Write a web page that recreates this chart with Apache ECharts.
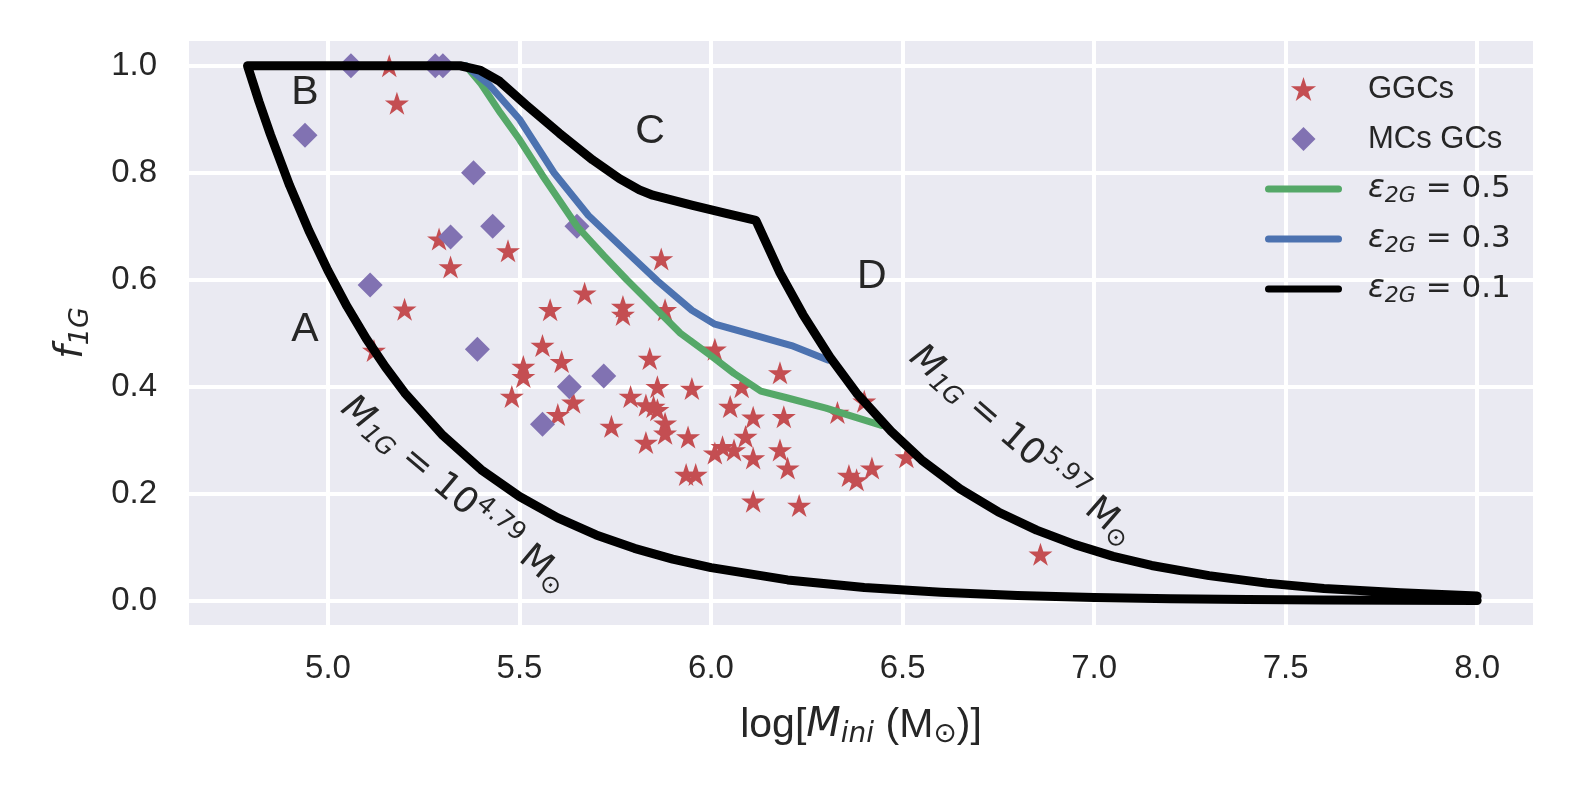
<!DOCTYPE html>
<html>
<head>
<meta charset="utf-8">
<script src="https://cdn.jsdelivr.net/npm/echarts@6/dist/echarts.min.js"></script>
<style>
  html, body { margin: 0; padding: 0; background: #fff; }
  #main { width: 1578px; height: 801px; }
</style>
</head>
<body>
<div id="main"></div>
<script>
// lower boundary, M1G = 10^4.79
var lowerX = [4.79, 4.82, 4.85, 4.9, 4.95, 5.0, 5.05, 5.1, 5.15, 5.2, 5.3, 5.4, 5.5, 5.6, 5.7, 5.8, 5.9, 6.0, 6.2, 6.4, 6.6, 6.8, 7.0, 7.2, 7.4, 7.6, 7.8, 8.0];
var lowerY = [1.0, 0.933, 0.871, 0.776, 0.692, 0.617, 0.550, 0.490, 0.437, 0.389, 0.309, 0.245, 0.195, 0.155, 0.123, 0.098, 0.078, 0.062, 0.039, 0.025, 0.016, 0.010, 0.006, 0.004, 0.0025, 0.0016, 0.001, 0.0006];

// eps=0.1 top edge (after the flat part at 1.0)
var topX = [5.345, 5.396, 5.448, 5.517, 5.604, 5.691, 5.761, 5.813, 5.848, 5.952, 6.039, 6.117];
var topY = [1.0, 0.992, 0.971, 0.927, 0.874, 0.824, 0.789, 0.768, 0.758, 0.739, 0.724, 0.711];

// upper boundary, M1G = 10^5.97
var upperX = [6.18, 6.24, 6.31, 6.38, 6.47, 6.55, 6.65, 6.75, 6.85, 6.95, 7.05, 7.15, 7.3, 7.45, 7.6, 7.8, 8.0];
var upperY = [0.613, 0.535, 0.456, 0.388, 0.317, 0.263, 0.209, 0.166, 0.132, 0.105, 0.083, 0.066, 0.047, 0.033, 0.023, 0.015, 0.009];

// eps=0.5 and eps=0.3 tracks
var eps05X = [5.36, 5.40, 5.45, 5.5, 5.56, 5.65, 5.72, 5.78, 5.85, 5.92, 6.0, 6.06, 6.13, 6.2, 6.3, 6.445];
var eps05Y = [1.0, 0.966, 0.912, 0.862, 0.795, 0.70, 0.645, 0.60, 0.55, 0.50, 0.458, 0.425, 0.392, 0.379, 0.36, 0.328];
var eps03X = [5.36, 5.42, 5.5, 5.59, 5.68, 5.78, 5.86, 5.95, 6.01, 6.12, 6.21, 6.305];
var eps03Y = [1.0, 0.965, 0.90, 0.80, 0.72, 0.652, 0.598, 0.543, 0.517, 0.495, 0.477, 0.45];

// GGCs
var ggcX = [5.16, 5.18, 5.29, 5.32, 5.47, 5.20, 5.12, 5.87, 5.67, 5.58, 5.77, 5.77, 5.88, 5.56, 5.61, 5.84, 5.51, 5.51, 5.48, 5.64,
            5.60, 5.74, 5.79, 5.83, 5.85, 5.86, 5.86, 5.95, 5.88, 5.88, 5.83, 5.94, 5.935, 5.96, 6.01, 6.08, 6.18, 6.05, 6.11, 6.19,
            6.09, 6.01, 6.03, 6.06, 6.11, 6.18, 6.20, 6.11, 6.23, 6.33, 6.40, 6.36, 6.38, 6.42, 6.51, 6.86];
var ggcY = [1.0, 0.93, 0.676, 0.624, 0.654, 0.545, 0.468, 0.639, 0.575, 0.544, 0.55, 0.535, 0.544, 0.477, 0.447, 0.453, 0.438, 0.419, 0.382, 0.371,
            0.348, 0.326, 0.382, 0.366, 0.363, 0.357, 0.40, 0.397, 0.332, 0.313, 0.296, 0.306, 0.236, 0.236, 0.470, 0.40, 0.426, 0.363, 0.343, 0.344,
            0.307, 0.276, 0.288, 0.282, 0.267, 0.282, 0.248, 0.186, 0.178, 0.352, 0.373, 0.234, 0.226, 0.248, 0.269, 0.087];

// MCs GCs
var mcX = [4.94, 5.06, 5.28, 5.30, 5.38, 5.32, 5.43, 5.65, 5.11, 5.39, 5.72, 5.63, 5.56];
var mcY = [0.87, 1.0, 1.0, 1.0, 0.80, 0.68, 0.70, 0.70, 0.59, 0.47, 0.42, 0.40, 0.33];

// region letters
var regionText = ['A', 'B', 'C', 'D'];
var regionX = [4.94, 4.94, 5.841, 6.42];
var regionY = [0.506, 0.949, 0.877, 0.606];

// boundary captions
var capExp = ['4.79', '5.97'];
var capX = [5.33, 6.81];
var capY = [0.198, 0.29];
var capRot = [-40, -41];

var starPath = 'path://M0,-100 L22.45,-30.9 L95.1,-30.9 L36.3,11.8 L58.8,80.9 L0,38.2 L-58.8,80.9 L-36.3,11.8 L-95.1,-30.9 L-22.45,-30.9 Z';
var diamondPath = 'path://M0,-10 L10,0 L0,10 L-10,0 Z';
var barPath = 'path://M3.5,0 L73.5,0 A3.5,3.5 0 0 1 73.5,7 L3.5,7 A3.5,3.5 0 0 1 3.5,0 Z';

function pairs(xs, ys) {
  return xs.map(function (x, i) { return [x, ys[i]]; });
}

var lowerPts = pairs(lowerX, lowerY);
var lowerBack = lowerPts.slice().reverse();
var lowerBackShort = lowerPts.filter(function (p) { return p[0] <= 7.8; }).reverse();

var blackData = lowerBack.concat(pairs(topX, topY), pairs(upperX, upperY));
var greenData = lowerBackShort.concat(pairs(eps05X, eps05Y));
var blueData = lowerBackShort.concat(pairs(eps03X, eps03Y));

var mathFont = 'DejaVu Sans';
var textFont = 'Liberation Sans';
var ink = '#262626';

var myChart = echarts.init(document.getElementById('main'));

option = {
  animation: false,
  backgroundColor: '#ffffff',
  grid: {
    left: 187, right: 43, top: 39, bottom: 174,
    show: true, backgroundColor: '#EAEAF2', borderWidth: 0
  },
  legend: {
    orient: 'vertical',
    left: 1260, top: 64,
    itemWidth: 77, itemHeight: 24, itemGap: 10,
    symbolKeepAspect: true,
    data: [
      { name: 'GGCs', icon: starPath },
      { name: 'MCs GCs', icon: diamondPath },
      { name: 'e05', icon: barPath },
      { name: 'e03', icon: barPath },
      { name: 'e01', icon: barPath }
    ],
    formatter: function (name) {
      if (name === 'e05') return '{e|ε}{s|2G}{t| = 0.5}';
      if (name === 'e03') return '{e|ε}{s|2G}{t| = 0.3}';
      if (name === 'e01') return '{e|ε}{s|2G}{t| = 0.1}';
      return '{n|' + name + '}';
    },
    textStyle: {
      color: ink, padding: [0, 0, 0, 21], lineHeight: 40,
      rich: {
        n: { fontFamily: textFont, fontSize: 31, color: ink, lineHeight: 40 },
        e: { fontFamily: mathFont, fontStyle: 'italic', fontSize: 31, color: ink, lineHeight: 40 },
        s: { fontFamily: mathFont, fontStyle: 'italic', fontSize: 22, color: ink, lineHeight: 40, padding: [14, 0, 0, 0] },
        t: { fontFamily: mathFont, fontSize: 31, color: ink, lineHeight: 40 }
      }
    }
  },
  xAxis: {
    type: 'value',
    min: 4.632, max: 8.151,
    splitNumber: 7,
    axisLine: { show: false },
    axisTick: { show: false },
    splitLine: { show: true, lineStyle: { color: '#ffffff', width: 4 } },
    axisLabel: {
      showMinLabel: false, showMaxLabel: false,
      margin: 25, fontSize: 33, fontFamily: textFont, color: ink,
      formatter: function (v) { return v.toFixed(1); }
    },
    name: '{n|log[}{m|M}{s|ini}{n| (M}{o|⊙}{n|)]}',
    nameLocation: 'middle',
    nameGap: 76,
    nameTextStyle: {
      lineHeight: 46,
      rich: {
        n: { fontFamily: textFont, fontSize: 41, color: ink, lineHeight: 46 },
        m: { fontFamily: mathFont, fontStyle: 'italic', fontSize: 40, color: ink, lineHeight: 46 },
        s: { fontFamily: mathFont, fontStyle: 'italic', fontSize: 28, color: ink, lineHeight: 46, padding: [18, 0, 0, 0] },
        o: { fontFamily: mathFont, fontSize: 28, color: ink, lineHeight: 46, padding: [18, 0, 0, 0] }
      }
    }
  },
  yAxis: {
    type: 'value',
    min: -0.049, max: 1.05,
    splitNumber: 5,
    axisLine: { show: false },
    axisTick: { show: false },
    splitLine: { show: true, lineStyle: { color: '#ffffff', width: 4 } },
    axisLabel: {
      showMinLabel: false, showMaxLabel: false,
      margin: 30, fontSize: 33, fontFamily: textFont, color: ink,
      formatter: function (v) { return v.toFixed(1); }
    },
    name: '{m|f}{s|1G}',
    nameLocation: 'middle',
    nameGap: 93,
    nameTextStyle: {
      lineHeight: 44,
      rich: {
        m: { fontFamily: mathFont, fontStyle: 'italic', fontSize: 39, color: ink, lineHeight: 44 },
        s: { fontFamily: mathFont, fontStyle: 'italic', fontSize: 27, color: ink, lineHeight: 44, padding: [18, 0, 0, 0] }
      }
    }
  },
  series: [{
    name: 'e05',
    type: 'line',
    data: greenData,
    symbol: 'none', showSymbol: false,
    color: '#55A868',
    lineStyle: { color: '#55A868', width: 7, cap: 'round', join: 'round' }
  }, {
    name: 'e03',
    type: 'line',
    data: blueData,
    symbol: 'none', showSymbol: false,
    color: '#4C72B0',
    lineStyle: { color: '#4C72B0', width: 7, cap: 'round', join: 'round' }
  }, {
    name: 'e01',
    type: 'line',
    data: blackData,
    symbol: 'none', showSymbol: false,
    color: '#000000',
    lineStyle: { color: '#000000', width: 9, cap: 'round', join: 'round' }
  }, {
    name: 'GGCs',
    type: 'scatter',
    data: pairs(ggcX, ggcY),
    symbol: starPath,
    symbolSize: [24, 23],
    itemStyle: { color: '#C44E52', opacity: 1 }
  }, {
    name: 'MCs GCs',
    type: 'scatter',
    data: pairs(mcX, mcY),
    symbol: diamondPath,
    symbolSize: 25,
    itemStyle: { color: '#8172B2', opacity: 1 }
  }, {
    name: 'regions',
    type: 'scatter',
    silent: true,
    symbolSize: 0.1,
    itemStyle: { color: 'rgba(0,0,0,0)' },
    data: regionText.map(function (t, i) {
      return { value: [regionX[i], regionY[i]], label: { formatter: t } };
    }),
    label: {
      show: true, position: 'inside', opacity: 1,
      fontFamily: textFont, fontSize: 41, color: ink, textBorderWidth: 0
    }
  }, {
    name: 'captions',
    type: 'scatter',
    silent: true,
    symbolSize: 0.1,
    itemStyle: { color: 'rgba(0,0,0,0)' },
    data: capExp.map(function (e, i) {
      return {
        value: [capX[i], capY[i]],
        label: { formatter: '{m|M}{s|1G}{t| = 10}{p|' + e + '}{t| M}{o|⊙}', rotate: capRot[i] }
      };
    }),
    label: {
      show: true, position: 'inside', lineHeight: 42, opacity: 1, textBorderWidth: 0,
      rich: {
        m: { fontFamily: mathFont, fontStyle: 'italic', fontSize: 36, color: ink, lineHeight: 42 },
        s: { fontFamily: mathFont, fontStyle: 'italic', fontSize: 25, color: ink, lineHeight: 42, padding: [17, 0, 0, 0] },
        t: { fontFamily: mathFont, fontSize: 36, color: ink, lineHeight: 42 },
        p: { fontFamily: mathFont, fontSize: 25, color: ink, lineHeight: 42, padding: [0, 0, 22, 0] },
        o: { fontFamily: mathFont, fontSize: 25, color: ink, lineHeight: 42, padding: [17, 0, 0, 0] }
      }
    }
  }]
};

myChart.setOption(option);
</script>
</body>
</html>
